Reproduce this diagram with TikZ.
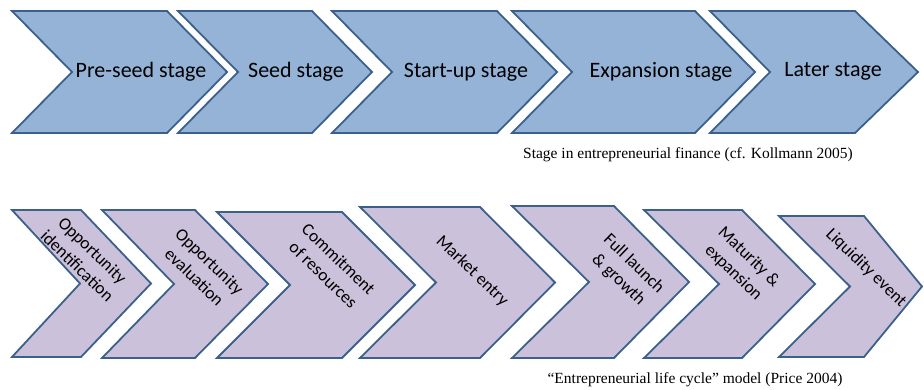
\documentclass[tikz,border=0pt]{standalone}
\usepackage{fontspec}
\setmainfont{Carlito}
\newfontfamily\capfont{Liberation Serif}
\definecolor{topfill}{RGB}{149,179,215}
\definecolor{botfill}{RGB}{204,193,218}
\definecolor{edge}{RGB}{60,96,140}
\newcommand\mychev[7]{\path[#7] (#1,#3) -- (#2,#3) -- ({#2+#6},{(#3+#4)/2}) -- (#2,#4) -- (#1,#4) -- ({#1+#5},{(#3+#4)/2}) -- cycle;}
\begin{document}
\begin{tikzpicture}[x=1pt,y=-1pt,
  topchev/.style={fill=topfill,draw=edge,line width=1.8pt,line join=miter},
  botchev/.style={fill=botfill,draw=edge,line width=1.8pt,line join=miter},
  toptext/.style={font=\fontsize{22}{26}\selectfont,inner sep=0pt},
  bottext/.style={font=\fontsize{17.5}{22}\selectfont,align=center,rotate=-44,inner sep=0pt},
  captext/.style={font=\capfont\fontsize{15.5}{18}\selectfont,inner sep=0pt}]
\useasboundingbox (0,0) rectangle (924,389);
% top row
\mychev{12}{167}{11}{133}{60}{60}{topchev}
\mychev{178}{312}{11}{133}{60}{60}{topchev}
\mychev{332}{497}{11}{133}{60}{60}{topchev}
\mychev{512}{695}{11}{133}{60}{60}{topchev}
\mychev{710}{855}{11}{133}{60}{63}{topchev}
\node[toptext] (t1) at (141,72) {Pre-seed stage};
\node[toptext] (t2) at (296,72) {Seed stage};
\node[toptext] (t3) at (466,72) {Start-up stage};
\node[toptext] (t4) at (661,72) {Expansion stage};
\node[toptext] (t5) at (833,71) {Later stage};
\node[captext] (c1) at (688,155) {Stage in entrepreneurial finance (cf. Kollmann 2005)};
% bottom row
\mychev{12}{81}{210}{357}{68}{70}{botchev}
\mychev{102}{195}{210}{358}{72}{73}{botchev}
\mychev{217}{342}{212}{358}{73}{73}{botchev}
\mychev{360}{480}{207}{358}{76}{75}{botchev}
\mychev{512}{614}{206}{358}{77}{75}{botchev}
\mychev{644}{742}{210}{358}{75}{73}{botchev}
\mychev{779}{864}{216}{357}{71}{58}{botchev}
\node[bottext] (b1) at (85,258) {Opportunity\\identification};
\node[bottext] (b2) at (202,269) {Opportunity\\evaluation};
\node[bottext] (b3) at (331,267) {Commitment\\of resources};
\node[bottext] (b4) at (472,271) {Market entry};
\node[bottext] (b5) at (626,272) {Full launch\\\& growth};
\node[bottext] (b6) at (741,265) {Maturity \&\\expansion};
\node[bottext] (b7) at (866,268) {Liquidity event};
\node[captext] (c2) at (695,380) {“Entrepreneurial life cycle” model (Price 2004)};
\end{tikzpicture}
\end{document}
